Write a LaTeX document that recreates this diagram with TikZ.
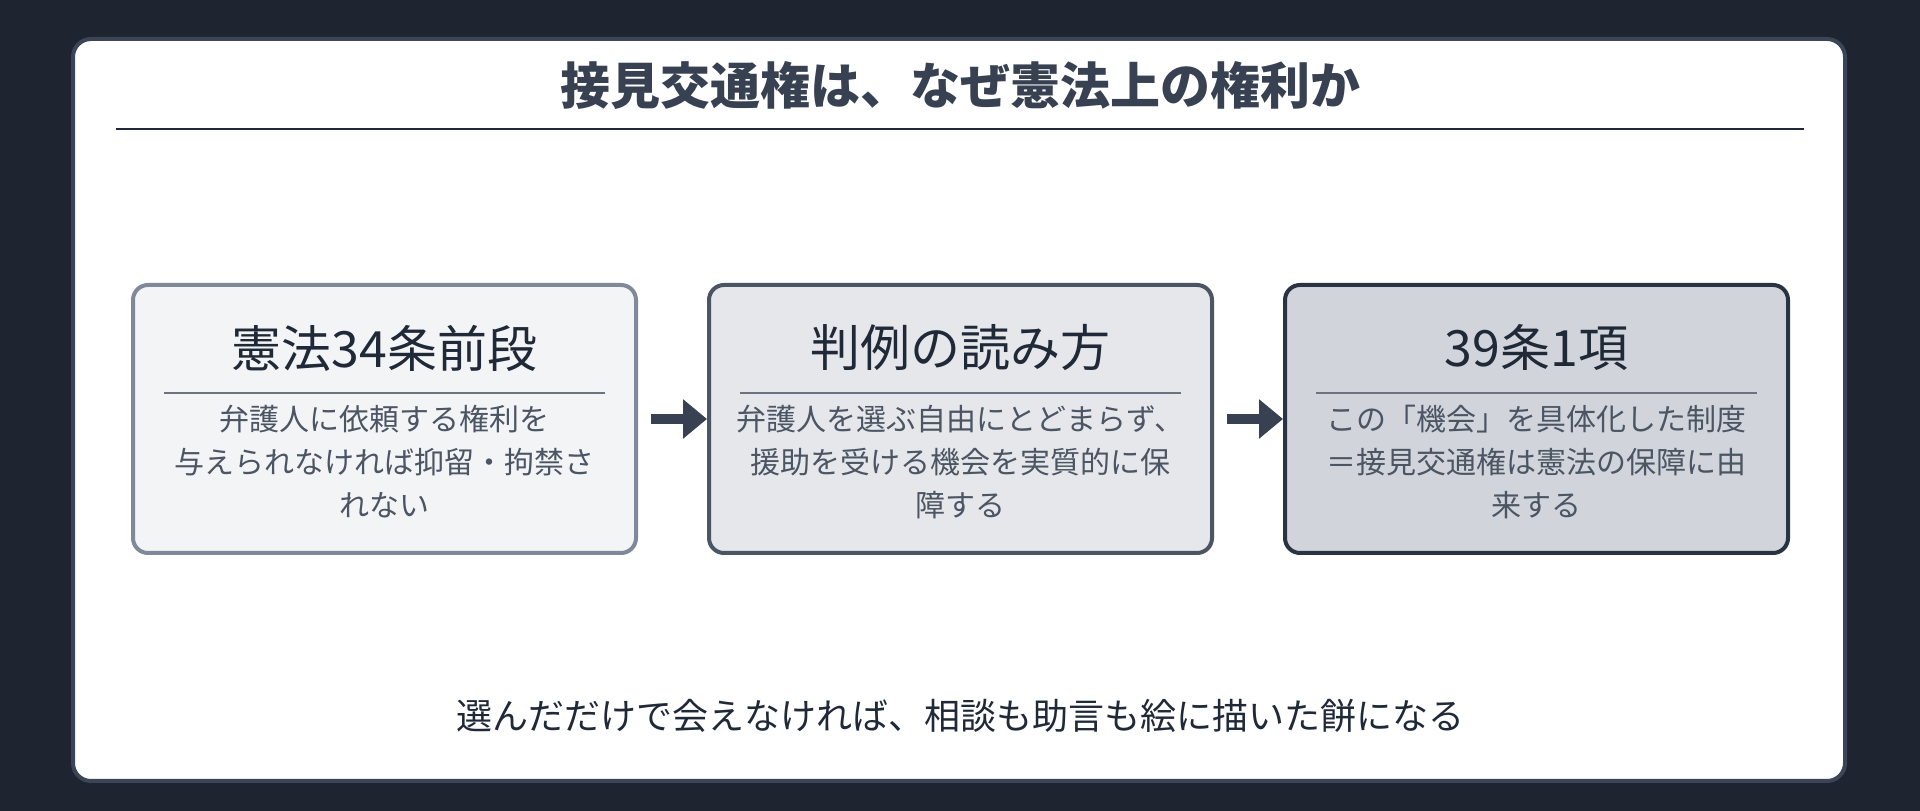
\documentclass[tikz,border=0pt]{standalone}
\usepackage{fontspec}
\setmainfont{Noto Sans CJK JP}
\usetikzlibrary{arrows.meta, positioning}
\definecolor{bg}{HTML}{1E2430}
\definecolor{panelline}{HTML}{3B4556}
\definecolor{ink}{HTML}{1F2937}
\definecolor{titleink}{HTML}{374151}
\definecolor{bodyink}{HTML}{4B5563}
\definecolor{sepline}{HTML}{6B7280}
\definecolor{f1}{HTML}{F3F4F6}
\definecolor{l1}{HTML}{7F8999}
\definecolor{f2}{HTML}{E5E7EB}
\definecolor{l2}{HTML}{4B5563}
\definecolor{f3}{HTML}{D1D5DB}
\definecolor{l3}{HTML}{2A3341}
\begin{document}
\begin{tikzpicture}[x=1pt, y=1pt,
        bx/.style={rounded corners=15pt, line width=4pt, minimum width=503pt, minimum height=268pt, inner sep=0pt},
        hd/.style={font=\fontsize{50}{58}\selectfont, text=ink, inner sep=0pt},
        bd/.style={font=\fontsize{30}{43}\selectfont, text=bodyink, align=center, inner sep=0pt},
        sep/.style={draw=sepline, line width=2.5pt},
        e/.style={-{Triangle[length=24pt, width=38pt]}, line width=10pt, draw=titleink, shorten <=13pt}]
        \fill[bg] (0,0) rectangle (1920,811);
        \draw[fill=white, draw=panelline, line width=4pt, rounded corners=18pt] (73,30) rectangle (1845,772);

        \draw node[font=\fontsize{50}{58}\selectfont\bfseries, text=titleink] (title) at (960,725) {接見交通権は、なぜ憲法上の権利か};
        \draw[ink, line width=2.5pt] (116,682) coordinate (r0) -- (1804,682) coordinate (r1);

        \draw node[bx, draw=l1, fill=f1] (b1) at (384.5,392) {};
        \foreach \x [evaluate = \x as \xp using int(\x-1)] in {2, 3}
        \draw node[bx, draw=l\x, fill=f\x, right=69pt of b\xp] (b\x) {};

        \foreach \x/\h/\t in {1/{憲法34条前段}/{弁護人に依頼する権利を\\与えられなければ抑留・拘禁さ\\れない},
                2/{判例の読み方}/{弁護人を選ぶ自由にとどまらず、\\援助を受ける機会を実質的に保\\障する},
                3/{39条1項}/{この「機会」を具体化した制度\\＝接見交通権は憲法の保障に由\\来する}}
        {
        \draw node[hd] (h\x) at ([yshift=71pt]b\x.center) {\h} node[bd] (t\x) at ([yshift=-43pt]b\x.center) {\t};
        \draw[sep] ([xshift=33pt, yshift=26pt]b\x.west) -- ([xshift=-33pt, yshift=26pt]b\x.east);
        }

        \draw[e] (b1.east) -- (b2.west);
        \draw[e] (b2.east) -- (b3.west);

        \draw node[font=\fontsize{36}{42}\selectfont, text=ink] (foot) at (960,95) {選んだだけで会えなければ、相談も助言も絵に描いた餅になる};
      \end{tikzpicture}
\end{document}
